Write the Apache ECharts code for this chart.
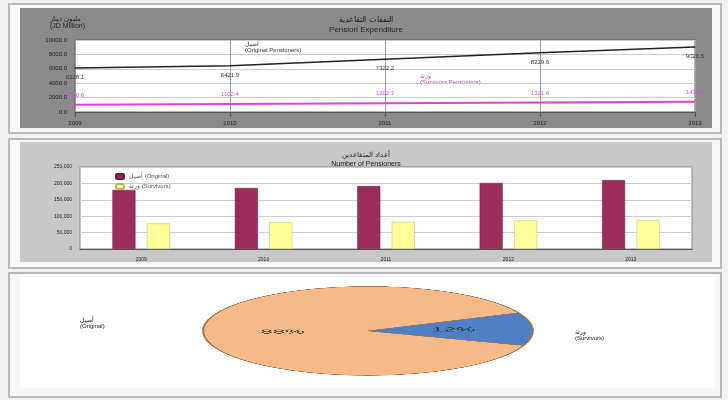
<!DOCTYPE html>
<html><head><meta charset="utf-8">
<script src="https://cdn.jsdelivr.net/npm/echarts@6/dist/echarts.min.js"></script>
<style>
body{margin:0;background:#f2f2f2;font-family:"Noto Sans",sans-serif;}
.box{position:absolute;border:2px solid #b8b8b8;background:#f7f7f7;}
#c1{position:absolute;left:20px;top:8px;width:692px;height:120px;}
#c2{position:absolute;left:20px;top:142px;width:692px;height:120px;}
#c3{position:absolute;left:20px;top:277px;width:695px;height:111px;}
#pie{position:absolute;left:198px;top:285px;width:340px;height:340px;transform:scaleY(0.27);transform-origin:50% 0;}
</style></head><body>
<div class="box" style="left:8px;top:3px;width:710px;height:127px"></div>
<div class="box" style="left:8px;top:138px;width:710px;height:127px"></div>
<div class="box" style="left:8px;top:272px;width:710px;height:122px"></div>
<div id="c1"></div><div id="c2"></div><div id="c3"></div><div id="pie"></div>
<script>
// السنوات
var years = ['2009','2010','2011','2012','2013'];
// النفقات (مليون)
var originalExp = [6128.1, 6421.9, 7322.2, 8219.6, 9020.5];
var survivorExp = [1000.6, 1102.4, 1202.3, 1321.6, 1436.6];
// عدد المتقاعدين
var originalNum = [180000, 186000, 192000, 201000, 210000];
var survivorNum = [78000, 82000, 83000, 87000, 88000];
// توزيع 2013
var pieNames = ['أصيل\n(Original)', 'ورثة\n(Survivors)'];
var pieValues = [88, 12];

var ch1 = echarts.init(document.getElementById('c1'));
ch1.setOption({
  backgroundColor: '#8a8a8a',
  title: {text: 'النفقات التقاعدية\nPension Expenditure', left: 'center', top: 2,
    textStyle: {fontSize: 8, color: '#222', fontWeight: 'normal', lineHeight: 10}},
  graphic: [
    {type: 'text', left: 30, top: 8, style: {text: 'مليون دينار\n(JD Million)', fontSize: 7, fill: '#222'}},
    {type: 'text', left: 225, top: 33, style: {text: 'أصيل\n(Original Pensioners)', fontSize: 6, fill: '#333', align: 'center'}},
    {type: 'text', left: 400, top: 65, style: {text: 'ورثة\n(Survivors Pensioners)', fontSize: 6, fill: '#c040c0', align: 'center'}}
  ],
  grid: {left: 55, right: 17, top: 32, bottom: 16, show: true, backgroundColor: '#fff', borderColor: '#666'},
  xAxis: {type: 'category', data: years, boundaryGap: false,
    axisLabel: {fontSize: 6, color: '#222'}, splitLine: {show: true, lineStyle: {color: '#99a'}}},
  yAxis: {type: 'value', min: 0, max: 10000, interval: 2000,
    axisLabel: {fontSize: 6, color: '#222', formatter: function(v){return v.toFixed(1);}},
    splitLine: {lineStyle: {color: '#ccc'}}},
  series: [
    {name: 'Original', type: 'line', data: originalExp, symbol: 'circle', symbolSize: 1, showSymbol: true,
     lineStyle: {color: '#222', width: 1.5}, itemStyle: {color: '#222'},
     label: {show: true, position: 'bottom', distance: 6, fontSize: 6, color: '#333'}},
    {name: 'Survivors', type: 'line', data: survivorExp, symbol: 'circle', symbolSize: 1, showSymbol: true,
     lineStyle: {color: '#e040e0', width: 2}, itemStyle: {color: '#e040e0'},
     label: {show: true, position: 'top', distance: 6, fontSize: 6, color: '#d050d0'}}
  ]
});

var ch2 = echarts.init(document.getElementById('c2'));
ch2.setOption({
  backgroundColor: '#c8c8c8',
  title: {text: 'أعداد المتقاعدين\nNumber of Pensioners', left: 'center', top: 4,
    textStyle: {fontSize: 7, color: '#222', fontWeight: 'normal', lineHeight: 9}},
  legend: {left: 90, top: 26, orient: 'vertical', itemWidth: 8, itemHeight: 5, itemGap: 3,
    textStyle: {fontSize: 6}, data: ['أصيل (Original)', 'ورثة (Survivors)']},
  grid: {left: 60, right: 20, top: 25, bottom: 12, show: true, backgroundColor: '#fff', borderColor: '#888'},
  xAxis: {type: 'category', data: years, axisLabel: {fontSize: 5, color: '#222'}},
  yAxis: {type: 'value', min: 0, max: 250000, interval: 50000,
    axisLabel: {fontSize: 5, color: '#222'}, splitLine: {lineStyle: {color: '#ccc'}}},
  series: [
    {name: 'أصيل (Original)', type: 'bar', data: originalNum, barWidth: 23, barGap: '50%',
     itemStyle: {color: '#9c2c5c', borderColor: '#6a1a3c', borderWidth: 0.5}},
    {name: 'ورثة (Survivors)', type: 'bar', data: survivorNum, barWidth: 23,
     itemStyle: {color: '#ffff99', borderColor: '#bbb860', borderWidth: 0.5}}
  ]
});

var ch3 = echarts.init(document.getElementById('c3'));
ch3.setOption({
  backgroundColor: '#fff',
  title: {text: 'النفقات التقاعدية حسب النوع لعام 2013\nPension Expenditure during 2013', left: 'center', top: 8,
    textStyle: {fontSize: 6, color: '#222', fontWeight: 'normal', lineHeight: 10}},
  graphic: [
    {type: 'text', left: 60, top: 40, style: {text: pieNames[0], fontSize: 6, fill: '#222', align: 'center'}},
    {type: 'text', left: 555, top: 52, style: {text: pieNames[1], fontSize: 6, fill: '#222', align: 'center'}}
  ]
});

var ch4 = echarts.init(document.getElementById('pie'));
ch4.setOption({
  series: [{type: 'pie', radius: '97%', center: ['50%', '50%'], startAngle: 24, clockwise: false,
    data: pieValues.map(function(v, i){return {name: pieNames[i], value: v};}),
    label: {show: true, position: 'inside', formatter: '{c}%', fontSize: 22, color: '#333'},
    itemStyle: {borderColor: '#a0764e', borderWidth: 2},
    color: ['#f5b98a', '#4f7fc4']}]
});
</script></body></html>
